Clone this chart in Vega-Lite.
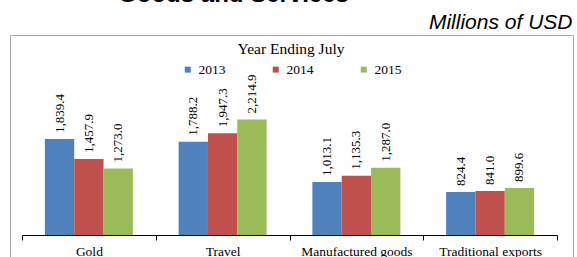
{
  "$schema": "https://vega.github.io/schema/vega-lite/v6.json",
  "autosize": {"type": "none"},
  "width": 563,
  "height": 240,
  "padding": {"left": 10, "top": 35, "right": 4, "bottom": 0},
  "background": "white",
  "title": {"text": "Goods and Services", "font": "Liberation Sans", "fontSize": 24, "fontWeight": "bold", "color": "black", "anchor": "middle", "frame": "group", "baseline": "alphabetic", "offset": -15, "dx": -58},
  "data": {"values": [
    {"category": "Gold", "year": "2013", "value": 1839.4},
    {"category": "Gold", "year": "2014", "value": 1457.9},
    {"category": "Gold", "year": "2015", "value": 1273.0},
    {"category": "Travel", "year": "2013", "value": 1788.2},
    {"category": "Travel", "year": "2014", "value": 1947.3},
    {"category": "Travel", "year": "2015", "value": 2214.9},
    {"category": "Manufactured goods", "year": "2013", "value": 1013.1},
    {"category": "Manufactured goods", "year": "2014", "value": 1135.3},
    {"category": "Manufactured goods", "year": "2015", "value": 1287.0},
    {"category": "Traditional exports", "year": "2013", "value": 824.4},
    {"category": "Traditional exports", "year": "2014", "value": 841.0},
    {"category": "Traditional exports", "year": "2015", "value": 899.6}
  ]},
  "encoding": {
    "x": {"field": "category", "type": "nominal", "sort": null,
      "scale": {"range": [12, 547], "paddingInner": 0, "paddingOuter": 0},
      "axis": {"title": null, "labelAngle": 0, "labelFont": "Liberation Serif", "labelFontSize": 13.5, "labelColor": "black", "domainColor": "black", "domainWidth": 1, "tickColor": "black", "tickSize": 5, "tickBand": "extent", "offset": -40, "labelPadding": 4, "grid": false}},
    "xOffset": {"field": "year", "type": "nominal", "scale": {"paddingInner": 0, "paddingOuter": 0.78}},
    "y": {"field": "value", "type": "quantitative",
      "scale": {"domain": [0, 3000], "range": [200, 43.4], "nice": false, "zero": true},
      "axis": {"title": "Millions of USD", "domain": false, "ticks": false, "labels": false, "grid": false, "titleAngle": 0, "titleX": 562, "titleY": -7, "titleAlign": "right", "titleBaseline": "alphabetic", "titleFont": "Liberation Sans", "titleFontStyle": "italic", "titleFontSize": 21, "titleFontWeight": "normal", "titleColor": "black"}}
  },
  "layer": [
    {"mark": {"type": "bar"},
     "encoding": {"color": {"field": "year", "type": "nominal",
       "scale": {"range": ["#4F81BD", "#C0504D", "#9BBB59"]},
       "legend": {"orient": "none", "direction": "horizontal", "legendX": 171, "legendY": 7, "title": "Year Ending July", "titleFont": "Liberation Serif", "titleFontSize": 15.5, "titleFontWeight": "normal", "titleColor": "black", "titleAnchor": "middle", "titlePadding": 5, "labelFont": "Liberation Serif", "labelFontSize": 13.5, "labelColor": "black", "symbolType": "square", "symbolSize": 36, "symbolStrokeWidth": 0, "columnPadding": 43, "labelOffset": 4, "padding": 0}}}},
    {"mark": {"type": "text", "angle": 270, "align": "left", "baseline": "middle", "dx": 6, "font": "Liberation Serif", "fontSize": 13, "color": "black"},
     "encoding": {"text": {"field": "value", "type": "quantitative", "format": ",.1f"}}}
  ],
  "config": {"view": {"stroke": "#a6a6a6", "strokeWidth": 1}}
}
